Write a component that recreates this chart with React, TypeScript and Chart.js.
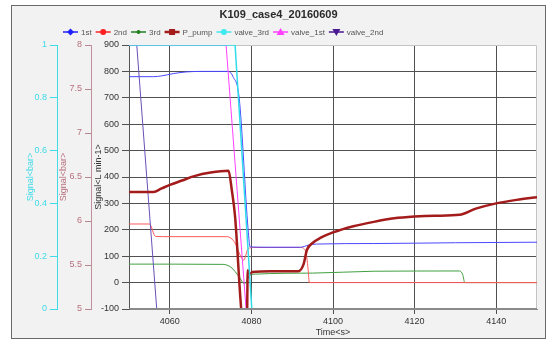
import React, { useEffect, useRef } from "react";
import { Chart, registerables } from "chart.js";

Chart.register(...registerables);

const TITLE = "K109_case4_20160609";
const X_TITLE = "Time<s>";
const Y_FLOW_TITLE = "Signal<L min-1>";
const Y_BAR_TITLE = "Signal<bar>";
const Y_VALVE_TITLE = "Signal<bar>";
const xTicks = [4060, 4080, 4100, 4120, 4140];

// 1st (L/min)
const firstT = [4050, 4056, 4058, 4061, 4064, 4068, 4074.3, 4075.5, 4077, 4079.2, 4079.7, 4085, 4092, 4094, 4096, 4110, 4130, 4150];
const firstV = [780, 780, 783, 792, 798, 800, 800, 780, 700, 200, 135, 134, 134, 142, 146, 148, 151, 153];
// 2nd (L/min)
const secondT = [4050, 4055, 4056.5, 4060, 4074, 4076, 4077.2, 4078.1, 4079.2, 4080.5, 4092, 4093.3, 4093.9, 4094.2, 4150];
const secondV = [222, 222, 175, 174, 174, 150, 105, 85, 128, 133, 133, 120, 50, 0, 0];
// 3rd (L/min)
const thirdT = [4050, 4073, 4075, 4077, 4078.3, 4079.5, 4081, 4095, 4110, 4131, 4131.8, 4132.3, 4150];
const thirdV = [70, 69, 58, 22, -5, 25, 32, 36, 43, 44, 30, 0, 0];
// P_pump (bar)
const pumpT = [4050, 4056, 4058, 4060, 4063, 4066, 4070, 4074.4, 4075.2, 4076, 4077.5, 4077.9, 4078.9, 4079.1, 4079.6, 4080.3, 4085, 4091.5, 4092.8, 4093.6, 4095, 4097, 4100, 4105, 4110, 4115, 4120, 4125, 4131, 4135, 4140, 4145, 4150];
const pumpV = [6.33, 6.33, 6.37, 6.41, 6.46, 6.51, 6.55, 6.57, 6.35, 6.05, 5.0, 4.85, 4.85, 5.44, 5.4, 5.42, 5.43, 5.43, 5.51, 5.67, 5.75, 5.81, 5.87, 5.94, 5.99, 6.03, 6.05, 6.06, 6.07, 6.14, 6.2, 6.24, 6.27];
// valves (0..1)
const valve3T = [4050, 4076, 4080.1, 4150];
const valve3V = [1, 1, 0, 0];
const valve1T = [4050, 4073.8, 4078.7, 4150];
const valve1V = [1, 1, 0, 0];
const valve2T = [4050, 4051.9, 4056.8, 4150];
const valve2V = [1, 1, 0, 0];

const FONT = "'Liberation Sans', Arial, sans-serif";
const CYAN = "#3fdbe8";
const ROSY = "#b8707f";
const DARK = "#333333";

function pts(t: number[], v: number[]) {
  return t.map((x, i) => ({ x, y: v[i] }));
}

const fmt = (v: any) => String(Number(Number(v).toFixed(2)));

function drawMarker(ctx: CanvasRenderingContext2D, kind: string, x: number, y: number, color: string) {
  ctx.save();
  ctx.fillStyle = color;
  ctx.strokeStyle = color;
  ctx.beginPath();
  if (kind === "diamond") {
    const s = 3.5;
    ctx.moveTo(x, y - s);
    ctx.lineTo(x + s, y);
    ctx.lineTo(x, y + s);
    ctx.lineTo(x - s, y);
    ctx.closePath();
  } else if (kind === "circle") {
    ctx.arc(x, y, 3, 0, Math.PI * 2);
  } else if (kind === "dot") {
    ctx.arc(x, y, 2, 0, Math.PI * 2);
  } else if (kind === "square") {
    ctx.rect(x - 3, y - 3, 6, 6);
  } else if (kind === "tri") {
    ctx.moveTo(x, y - 4);
    ctx.lineTo(x + 4, y + 3);
    ctx.lineTo(x - 4, y + 3);
    ctx.closePath();
  } else if (kind === "trid") {
    ctx.moveTo(x, y + 4);
    ctx.lineTo(x + 4, y - 3);
    ctx.lineTo(x - 4, y - 3);
    ctx.closePath();
  }
  ctx.fill();
  ctx.restore();
}

const bgPlugin = {
  id: "bgPlugin",
  beforeDraw(chart: any) {
    const { ctx, chartArea } = chart;
    ctx.save();
    ctx.fillStyle = "#ffffff";
    ctx.fillRect(chartArea.left, chartArea.top, chartArea.right - chartArea.left, chartArea.bottom - chartArea.top);
    ctx.restore();
  },
  beforeDatasetsDraw(chart: any) {
    const { ctx, chartArea } = chart;
    ctx.save();
    ctx.strokeStyle = "#c4c4c4";
    ctx.lineWidth = 1;
    ctx.beginPath();
    ctx.moveTo(chartArea.left, chartArea.top + 0.5);
    ctx.lineTo(chartArea.right - 0.5, chartArea.top + 0.5);
    ctx.lineTo(chartArea.right - 0.5, chartArea.bottom);
    ctx.stroke();
    ctx.restore();
  },
  afterDatasetsDraw(chart: any) {
    const { ctx, chartArea } = chart;
    ctx.save();
    ctx.strokeStyle = "#8a8a8a";
    ctx.lineWidth = 1;
    ctx.beginPath();
    ctx.moveTo(chartArea.left, chartArea.bottom - 0.5);
    ctx.lineTo(chartArea.right, chartArea.bottom - 0.5);
    ctx.stroke();
    ctx.restore();
  },
};

const headerPlugin = {
  id: "headerPlugin",
  afterDraw(chart: any) {
    const { ctx, width } = chart;
    ctx.save();
    ctx.fillStyle = "#2a2a2a";
    ctx.font = `bold 11px ${FONT}`;
    ctx.textAlign = "center";
    ctx.textBaseline = "middle";
    ctx.fillText(TITLE, width / 2, 9);

    ctx.font = `8px ${FONT}`;
    ctx.textAlign = "left";
    let x = 51;
    const y = 26;
    for (const ds of chart.data.datasets) {
      const color = ds.legendColor || ds.borderColor;
      ctx.strokeStyle = color;
      ctx.lineWidth = ds.label === "P_pump" ? 2.5 : 1.5;
      ctx.beginPath();
      ctx.moveTo(x, y);
      ctx.lineTo(x + 15, y);
      ctx.stroke();
      drawMarker(ctx, ds.marker, x + 7.5, y, color);
      ctx.fillStyle = "#555555";
      ctx.fillText(ds.label, x + 18, y + 0.5);
      x += 18 + ctx.measureText(ds.label).width + 4;
    }
    ctx.restore();
  },
};

export default function App() {
  const ref = useRef<HTMLCanvasElement>(null);

  useEffect(() => {
    const thin = 1;
    const chart = new Chart(ref.current as HTMLCanvasElement, {
      type: "line",
      data: {
        datasets: [
          { label: "1st", data: pts(firstT, firstV), borderColor: "#4848ff", marker: "diamond", legendColor: "#2020ff", borderWidth: thin, yAxisID: "y", cubicInterpolationMode: "monotone", order: 5 } as any,
          { label: "2nd", data: pts(secondT, secondV), borderColor: "#ff5a5a", marker: "circle", legendColor: "#ff2020", borderWidth: thin, yAxisID: "y", cubicInterpolationMode: "monotone", order: 6 } as any,
          { label: "3rd", data: pts(thirdT, thirdV), borderColor: "#40a040", marker: "dot", legendColor: "#208020", borderWidth: thin, yAxisID: "y", cubicInterpolationMode: "monotone", order: 7 } as any,
          { label: "P_pump", data: pts(pumpT, pumpV), borderColor: "#a31b1b", marker: "square", borderWidth: 2.5, yAxisID: "yp", cubicInterpolationMode: "monotone", order: 1 } as any,
          { label: "valve_3rd", data: pts(valve3T, valve3V), borderColor: "#30dcec", marker: "circle", legendColor: "#40e8f0", borderWidth: 1.5, yAxisID: "yv", order: 0 } as any,
          { label: "valve_1st", data: pts(valve1T, valve1V), borderColor: "#ff40ff", marker: "tri", borderWidth: thin, yAxisID: "yv", order: 3 } as any,
          { label: "valve_2nd", data: pts(valve2T, valve2V), borderColor: "#6a50b8", marker: "trid", legendColor: "#4a1890", borderWidth: thin, yAxisID: "yv", order: 4 } as any,
        ],
      },
      options: {
        animation: false,
        responsive: false,
        devicePixelRatio: 1,
        elements: { point: { radius: 0 }, line: { fill: false } },
        layout: { padding: { left: 12, right: 8, top: 39, bottom: 0 } },
        plugins: { legend: { display: false }, title: { display: false }, tooltip: { enabled: false } },
        scales: {
          x: {
            type: "linear",
            min: 4050,
            max: 4150,
            afterBuildTicks: (scale: any) => {
              scale.ticks = xTicks.map((v) => ({ value: v }));
            },
            afterFit: (scale: any) => {
              scale.height = 29;
            },
            ticks: { font: { family: FONT, size: 9 }, color: DARK, padding: 2, maxRotation: 0, callback: (v: any) => String(v) },
            grid: { color: "#505050", tickColor: "#505050", tickLength: 5, drawTicks: true },
            border: { display: true, color: "#8a8a8a" },
            title: { display: true, text: X_TITLE, font: { family: FONT, size: 9 }, color: DARK, padding: { top: 0, bottom: 0 } },
          },
          y: {
            type: "linear",
            position: "left",
            weight: 0,
            min: -100,
            max: 900,
            ticks: { stepSize: 100, font: { family: FONT, size: 9 }, color: DARK, padding: 3, callback: fmt },
            afterFit: (scale: any) => {
              scale.width = 38;
            },
            grid: {
              color: (c: any) => (c.tick && (c.tick.value === 900 || c.tick.value === -100) ? "rgba(0,0,0,0)" : "#505050"),
              tickColor: "#505050",
              tickLength: 7,
            },
            border: { display: true, color: "#555555" },
            title: { display: true, text: Y_FLOW_TITLE, font: { family: FONT, size: 9 }, color: DARK, padding: { top: 2, bottom: 0 } },
          },
          yp: {
            type: "linear",
            position: "left",
            weight: 1,
            min: 5,
            max: 8,
            ticks: { stepSize: 0.5, font: { family: FONT, size: 9 }, color: ROSY, padding: 3, callback: fmt },
            afterFit: (scale: any) => {
              scale.width = 34;
            },
            grid: { drawOnChartArea: false, tickColor: "#b88592", tickLength: 6 },
            border: { display: true, color: "#c0909c" },
            title: { display: true, text: Y_BAR_TITLE, font: { family: FONT, size: 9 }, color: ROSY, padding: { top: 1, bottom: 0 } },
          },
          yv: {
            type: "linear",
            position: "left",
            weight: 2,
            min: 0,
            max: 1,
            ticks: { stepSize: 0.2, font: { family: FONT, size: 9 }, color: CYAN, padding: 3, callback: fmt },
            afterFit: (scale: any) => {
              scale.width = 33;
            },
            grid: { drawOnChartArea: false, tickColor: CYAN, tickLength: 7 },
            border: { display: true, color: CYAN },
            title: { display: true, text: Y_VALVE_TITLE, font: { family: FONT, size: 9 }, color: CYAN, padding: { top: 1, bottom: 0 } },
          },
        },
      } as any,
      plugins: [bgPlugin, headerPlugin],
    });
    return () => chart.destroy();
  }, []);

  return (
    <div
      style={{
        position: "absolute",
        left: 11,
        top: 5,
        width: 533,
        height: 332,
        border: "1px solid #6a6a6a",
        background: "#f2f2f2",
      }}
    >
      <canvas ref={ref} width={533} height={332} style={{ display: "block", width: 533, height: 332 }} />
    </div>
  );
}
